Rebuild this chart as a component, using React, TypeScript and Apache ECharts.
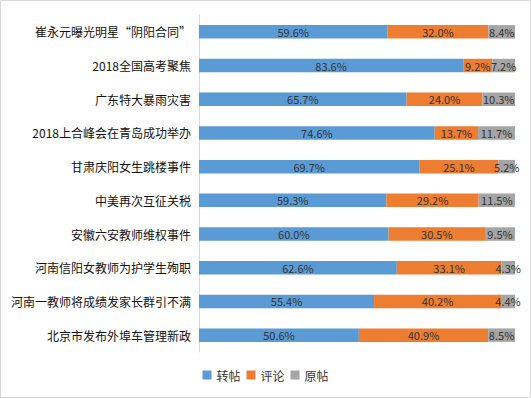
import React, { useEffect, useRef } from "react";
import * as echarts from "echarts";

const categories = [
  "崔永元曝光明星“阴阳合同”",
  "2018全国高考聚焦",
  "广东特大暴雨灾害",
  "2018上合峰会在青岛成功举办",
  "甘肃庆阳女生跳楼事件",
  "中美再次互征关税",
  "安徽六安教师维权事件",
  "河南信阳女教师为护学生殉职",
  "河南一教师将成绩发家长群引不满",
  "北京市发布外埠车管理新政",
];
const repost = [59.6, 83.6, 65.7, 74.6, 69.7, 59.3, 60.0, 62.6, 55.4, 50.6];
const comment = [32.0, 9.2, 24.0, 13.7, 25.1, 29.2, 30.5, 33.1, 40.2, 40.9];
const original = [8.4, 7.2, 10.3, 11.7, 5.2, 11.5, 9.5, 4.3, 4.4, 8.5];
const seriesNames = ["转帖", "评论", "原帖"];
const colors = ["#5B9BD5", "#ED7D31", "#A5A5A5"];

const FONT = "'Noto Sans CJK SC', 'Noto Sans', sans-serif";

export default function App() {
  const ref = useRef<HTMLDivElement>(null);
  useEffect(() => {
    if (!ref.current) return;
    const chart = echarts.init(ref.current, undefined, { renderer: "svg" });
    const mk = (name: string, data: number[], color: string) => ({
      name,
      type: "bar",
      stack: "total",
      barWidth: "40%",
      data,
      itemStyle: { color },
      label: {
        show: true,
        position: "inside",
        formatter: (p: any) => Number(p.value).toFixed(1) + "%",
        color: "#333",
        fontSize: 11,
        fontFamily: FONT,
      },
    });
    chart.setOption({
      animation: false,
      textStyle: { fontFamily: FONT },
      graphic: [
        {
          type: "rect",
          shape: { x: 0.5, y: 0.5, width: 530, height: 397 },
          style: { fill: "none", stroke: "#d9d9d9", lineWidth: 1 },
          silent: true,
        },
      ],
      grid: { left: 199, right: 16, top: 15, bottom: 46, containLabel: false },
      legend: {
        bottom: 12,
        left: "center",
        itemWidth: 9,
        itemHeight: 9,
        itemGap: 6,
        icon: "rect",
        textStyle: { fontSize: 12, color: "#333", fontFamily: FONT },
        data: seriesNames,
      },
      xAxis: {
        type: "value",
        min: 0,
        max: 100,
        show: false,
      },
      yAxis: {
        type: "category",
        inverse: true,
        data: categories,
        axisLine: { show: true, lineStyle: { color: "#d9d9d9" } },
        axisTick: { show: false },
        axisLabel: { fontSize: 12, color: "#111", fontFamily: FONT, margin: 8 },
      },
      series: [
        mk(seriesNames[0], repost, colors[0]),
        mk(seriesNames[1], comment, colors[1]),
        mk(seriesNames[2], original, colors[2]),
      ],
    });
    return () => chart.dispose();
  }, []);
  return (
    <div
      ref={ref}
      style={{ position: "fixed", left: 0, top: 0, width: 531, height: 398, background: "#fff" }}
    />
  );
}
